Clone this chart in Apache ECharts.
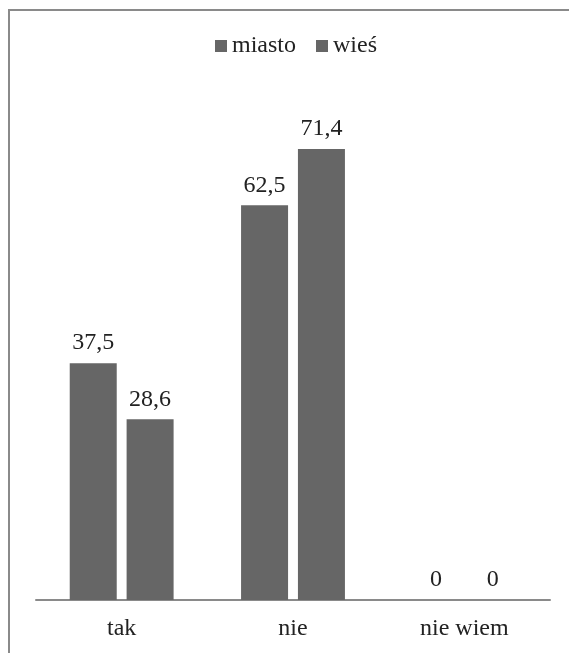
<!DOCTYPE html>
<html><head><meta charset="utf-8">
<script src="https://cdn.jsdelivr.net/npm/echarts@6/dist/echarts.min.js"></script>
<style>html,body{margin:0;padding:0;background:#fff}#c{width:569px;height:653px}</style>
</head><body><div id="c"></div>
<script>
const categories = ['tak', 'nie', 'nie wiem'];
const miasto = [37.5, 62.5, 0];
const wies = [28.6, 71.4, 0];
const seriesNames = ['miasto', 'wieś'];

const FONT = '"Liberation Serif", "Times New Roman", serif';
const chart = echarts.init(document.getElementById('c'), null, {renderer: 'canvas'});
const fmt = p => String(p.value).replace('.', ',');
const labelCfg = {show: true, position: 'top', distance: 8, formatter: fmt,
  fontFamily: FONT, fontSize: 24, color: '#222'};
chart.setOption({
  animation: false,
  backgroundColor: '#fff',
  graphic: [{type: 'polyline', shape: {points: [[9, 653], [9, 10], [569, 10]]},
    style: {stroke: '#8a8a8a', lineWidth: 2, fill: null}}],
  legend: {left: 215, top: 34, padding: 0, itemWidth: 12, itemHeight: 12, itemGap: 20,
    icon: 'rect', data: seriesNames,
    textStyle: {fontFamily: FONT, fontSize: 24, color: '#222'}},
  grid: {left: 36, right: 19, top: 94.7, bottom: 53, containLabel: false},
  xAxis: {type: 'category', data: categories,
    axisLine: {lineStyle: {color: '#8a8a8a', width: 2}},
    axisTick: {show: false},
    axisLabel: {margin: 17, fontFamily: FONT, fontSize: 24, color: '#222'}},
  yAxis: {type: 'value', min: 0, max: 80, show: false, splitLine: {show: false}},
  series: [
    {name: seriesNames[0], type: 'bar', data: miasto, barWidth: 47, barGap: '21%',
      itemStyle: {color: '#666666'}, label: labelCfg},
    {name: seriesNames[1], type: 'bar', data: wies, barWidth: 47, barGap: '21%',
      itemStyle: {color: '#666666'}, label: labelCfg}
  ]
});
</script></body></html>
